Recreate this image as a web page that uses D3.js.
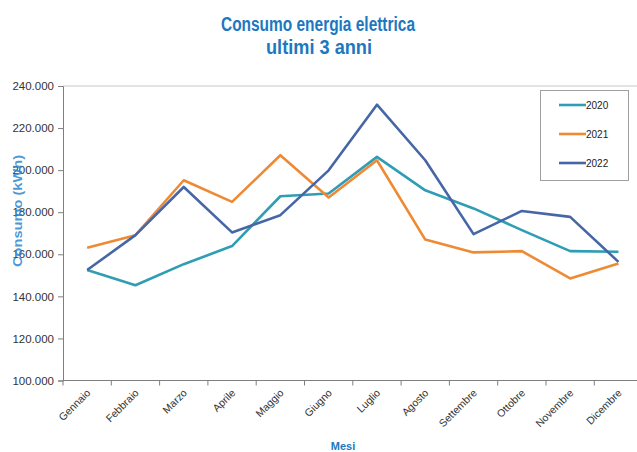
<!DOCTYPE html>
<html>
<head>
<meta charset="utf-8">
<script src="https://cdn.jsdelivr.net/npm/d3@7"></script>
<style>
  html, body { margin: 0; padding: 0; background: #fff; }
  svg { display: block; font-family: "Liberation Sans", Arial, sans-serif; }
</style>
</head>
<body>
<svg id="chart" width="637" height="452"></svg>
<script>
// Monthly electricity consumption (kWh) for the last three years
const months = ["Gennaio", "Febbraio", "Marzo", "Aprile", "Maggio", "Giugno",
                "Luglio", "Agosto", "Settembre", "Ottobre", "Novembre", "Dicembre"];
const years = ["2020", "2021", "2022"];
const values2020 = [152500, 145300, 155300, 163900, 187600, 188900, 206300, 190400, 181800, 171500, 161500, 161200];
const values2021 = [163100, 169100, 195200, 184900, 207100, 187000, 204700, 167000, 160900, 161500, 148500, 155600];
const values2022 = [152500, 169100, 192000, 170400, 178600, 199900, 231100, 204700, 169600, 180600, 177800, 156400];
const yTicks = [100000, 120000, 140000, 160000, 180000, 200000, 220000, 240000];
const colors = ["#2f9db3", "#ee8a34", "#4766a6"];

const series = years.map((yr, i) => ({
  name: yr,
  color: colors[i],
  values: [values2020, values2021, values2022][i]
}));

const svg = d3.select("#chart");
const plotLeft = 63, plotTop = 86, plotBottom = 380.5;
const band = 48.3;

const x = d3.scaleBand().domain(months).range([plotLeft, plotLeft + band * months.length]);
const y = d3.scaleLinear().domain([100000, 240000]).range([plotBottom, plotTop]);

// Italian thousands separator: 240.000
const label = v => d3.format(",")(v).replace(/,/g, ".");

// Title (bold, slightly condensed)
const title = svg.append("g").attr("fill", "#1c78bf").attr("font-weight", "bold")
  .attr("font-size", 20).attr("text-anchor", "middle");
title.append("text").attr("x", 318).attr("y", 31)
  .attr("textLength", 194).attr("lengthAdjust", "spacingAndGlyphs")
  .text("Consumo energia elettrica");
title.append("text").attr("x", 319).attr("y", 54)
  .attr("textLength", 106).attr("lengthAdjust", "spacingAndGlyphs")
  .text("ultimi 3 anni");

// Plot frame top line
svg.append("line").attr("x1", plotLeft).attr("x2", 637).attr("y1", plotTop).attr("y2", plotTop)
  .attr("stroke", "#c8c8c8").attr("stroke-width", 1);

// Y axis
const yAxis = svg.append("g").attr("transform", `translate(${plotLeft},0)`)
  .call(d3.axisLeft(y).tickValues(yTicks).tickSize(5).tickPadding(4).tickFormat(label));
yAxis.select(".domain").attr("stroke", "#7f7f7f");
yAxis.selectAll(".tick line").attr("stroke", "#7f7f7f");
yAxis.selectAll(".tick text").attr("fill", "#333").attr("font-size", 11.5)
  .attr("font-family", "Liberation Sans, Arial, sans-serif");

// X axis with ticks between categories
const xAxis = svg.append("g").attr("transform", `translate(0,${plotBottom})`);
xAxis.append("line").attr("x1", plotLeft).attr("x2", 637).attr("y1", 0).attr("y2", 0)
  .attr("stroke", "#7f7f7f");
xAxis.selectAll("line.tk").data(months).enter().append("line").attr("class", "tk")
  .attr("x1", d => x(d)).attr("x2", d => x(d)).attr("y1", 0).attr("y2", 5)
  .attr("stroke", "#7f7f7f");
xAxis.selectAll("text").data(months).enter().append("text")
  .attr("transform", d => `translate(${x(d) + x.bandwidth() / 2 + 4},${13}) rotate(-45)`)
  .attr("text-anchor", "end").attr("font-size", 10.5).attr("fill", "#333")
  .text(d => d);

// Axis titles (the vertical one sits over the tick labels)
svg.append("text").attr("transform", "translate(22,211) rotate(-90)")
  .attr("text-anchor", "middle").attr("font-size", 13).attr("font-weight", "bold")
  .attr("textLength", 112).attr("lengthAdjust", "spacingAndGlyphs")
  .attr("fill", "#2f86cf").attr("fill-opacity", 0.85).text("Consumo (kWh)");
svg.append("text").attr("x", 343).attr("y", 450).attr("text-anchor", "middle")
  .attr("font-size", 11).attr("font-weight", "bold").attr("fill", "#1c78bf").text("Mesi");

// Lines
const line = d3.line()
  .x((d, i) => x(months[i]) + x.bandwidth() / 2)
  .y(d => y(d));
svg.selectAll("path.series").data(series).enter().append("path").attr("class", "series")
  .attr("d", d => line(d.values)).attr("fill", "none")
  .attr("stroke", d => d.color).attr("stroke-width", 2.6).attr("stroke-linejoin", "round");

// Legend
const lg = svg.append("g");
lg.append("rect").attr("x", 540.5).attr("y", 90.5).attr("width", 88).attr("height", 90)
  .attr("fill", "#fff").attr("stroke", "#a0a0a0");
series.forEach((s, i) => {
  const ly = 105 + i * 29;
  lg.append("line").attr("x1", 559).attr("x2", 586).attr("y1", ly).attr("y2", ly)
    .attr("stroke", s.color).attr("stroke-width", 2.6);
  lg.append("text").attr("x", 586).attr("y", ly + 3.5).attr("font-size", 10)
    .attr("fill", "#222").text(s.name);
});
</script>
</body>
</html>
